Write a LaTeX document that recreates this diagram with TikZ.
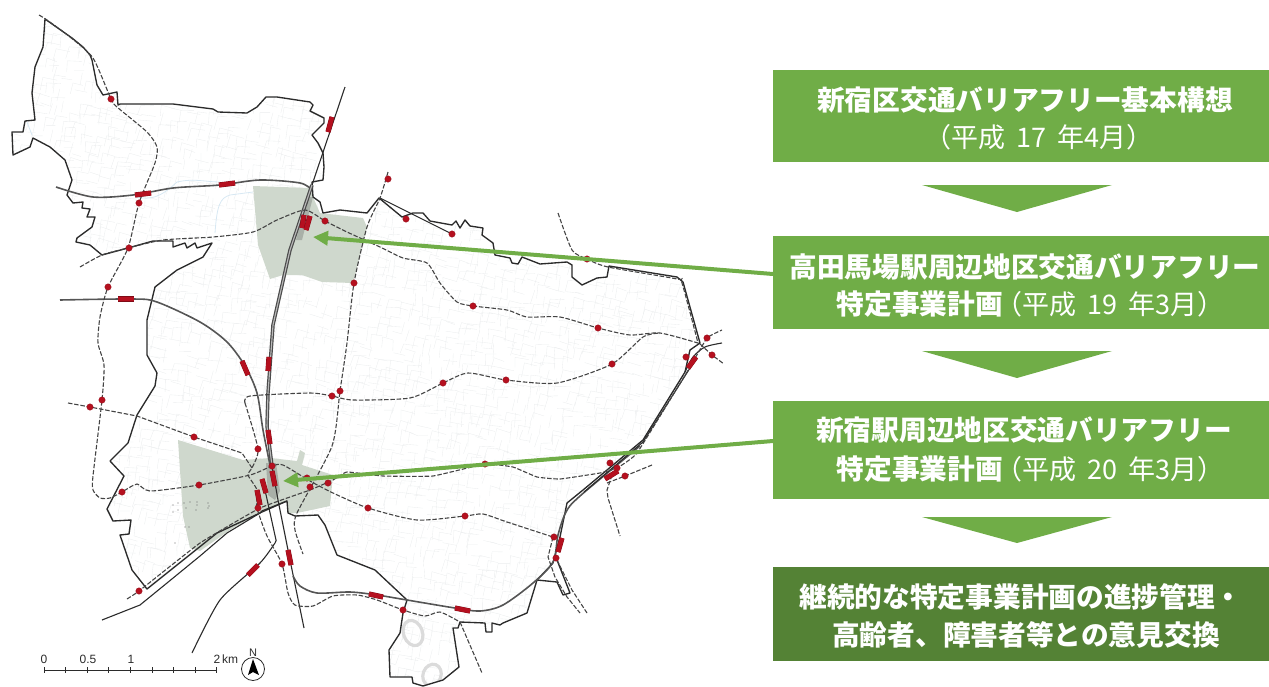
\documentclass[tikz,border=0pt]{standalone}
\usepackage{fontspec}
\usetikzlibrary{arrows.meta}
\newfontfamily\cjk{Noto Sans CJK JP}
\setsansfont{Liberation Sans}
\definecolor{gmid}{HTML}{70AD47}
\definecolor{gdark}{HTML}{548235}
\definecolor{zone}{HTML}{CFD8CD}
\definecolor{zonedk}{HTML}{A9B0A8}
\definecolor{stn}{HTML}{B5101F}
\definecolor{ink}{HTML}{2B2B2B}
\definecolor{dashc}{HTML}{444444}
\definecolor{street}{HTML}{EBEDEE}
\definecolor{river}{HTML}{D7E8F3}
\def\bdry{(45,19)--(72,38)--(83,47)--(90,55)--(92,60)--(97,85)--(103,95)--(117,92)--(118,105)--(120,104)--(173,104)--(213,109)--(218,112)--(247,113)--(257,107)--(266,97)--(277,97)--(310,102)--(313,105)--(310,111)--(324,118)--(324,123)--(312,135)--(318,143)--(323,153)--(324,167)--(323,180)--(312,182)--(313,197)--(320,202)--(323,213)--(340,210)--(367,213)--(379,198)--(402,217)--(413,213)--(423,213)--(430,221)--(452,225)--(456,221)--(460,228)--(465,220)--(470,226)--(483,228)--(482,235)--(493,243)--(495,255)--(510,258)--(512,263)--(518,264)--(522,257)--(540,264)--(567,262)--(572,265)--(572,277)--(582,285)--(597,278)--(607,277)--(609,266)--(677,277)--(683,282)--(700,343)--(690,350)--(685,372)--(643,440)--(583,490)--(567,503)--(560,537)--(553,563)--(537,580)--(527,613)--(503,623)--(500,625)--(492,623)--(492,632)--(486,632)--(485,623)--(460,622)--(458,628)--(453,628)--(459,667)--(443,680)--(423,686)--(413,683)--(412,677)--(390,677)--(389,650)--(400,633)--(403,613)--(407,600)--(375,570)--(337,555)--(325,525)--(318,515)--(295,516)--(288,513)--(287,501)--(262,511)--(260,513)--(217,533)--(147,589)--(132,570)--(120,535)--(129,534)--(131,520)--(113,521)--(107,509)--(124,476)--(110,461)--(128,443)--(137,415)--(155,386)--(157,373)--(147,355)--(147,320)--(155,287)--(177,270)--(203,257)--(212,243)--(197,248)--(195,243)--(187,248)--(185,243)--(173,247)--(173,241)--(153,241)--(128,248)--(102,255)--(90,245)--(76,242)--(77,238)--(92,227)--(95,217)--(87,217)--(90,209)--(82,208)--(83,202)--(73,203)--(67,195)--(72,180)--(65,160)--(50,147)--(33,138)--(30,147)--(13,155)--(12,132)--(23,132)--(25,121)--(35,120)--(32,93)--(35,67)--(43,47)--cycle}
\tikzset{
  x=1pt,y=-1pt,
  border/.style={draw=ink,line width=1.35pt,line join=round},
  railthin/.style={draw=ink,line width=1.1pt},
  railmain/.style={draw=ink!85,line width=1.2pt,double=gray!55,double distance=1.1pt},
  railmid/.style={draw=ink!80,line width=1.6pt},
  metro/.style={draw=dashc,line width=1.1pt,dash pattern=on 4.5pt off 1.8pt},
  stopdot/.style={circle,fill=stn,draw=stn!80!black,line width=.3pt,inner sep=0pt,minimum size=6.5pt},
  barout/.style={draw=stn!70!black,line width=5.2pt},
  barin/.style={draw=stn,line width=4.4pt},
  stepbox/.style={fill=gmid,draw=none},
  downtri/.style={fill=gmid,draw=none},
  leadline/.style={draw=gmid,line width=4pt,-{Triangle[length=15pt,width=14pt]}},
  headtxt/.style={text=white,font=\cjk\bfseries\fontsize{27.7}{30}\selectfont,inner sep=0pt},
  subtxt/.style={text=white,font=\cjk\fontsize{27}{30}\selectfont,inner sep=0pt},
  scalelbl/.style={font=\sffamily\fontsize{12}{13}\selectfont,text=ink,inner sep=0pt},
}
\newcommand{\stationbar}[2]{\draw[barout] #1 -- #2;\draw[barin] #1 -- #2;}
\newcommand{\wgap}{\hspace{.42em}}
\begin{document}
\begin{tikzpicture}
\useasboundingbox (0,0) rectangle (1269,686);
% street texture
\pgfmathsetseed{11}
\begin{scope}
\clip \bdry;
\begin{scope}[rotate around={-10:(360,340)}]
\foreach \i in {-5,...,74}{\foreach \j in {-7,...,74}{
  \pgfmathsetmacro\px{\i*10+rnd*7}
  \pgfmathsetmacro\py{\j*10+rnd*7}
  \pgfmathsetmacro\qx{\px+9+rnd*6}
  \pgfmathsetmacro\qy{\py+9+rnd*6}
  \pgfmathsetmacro\ra{rnd}
  \ifdim\ra pt<0.7pt \draw[street,line width=.35pt] (\px,\py)--(\qx,\py+rnd*4-2); \fi
  \pgfmathsetmacro\rb{rnd}
  \ifdim\rb pt<0.7pt \draw[street,line width=.35pt] (\px,\py)--(\px+rnd*4-2,\qy); \fi
}}
\end{scope}
% stadiums
\draw[gray!28,line width=3.2pt,rotate around={20:(413,633)}] (413,633) ellipse [x radius=9.5,y radius=13];
\draw[gray!28,line width=3.2pt,rotate around={-20:(432,675)}] (432,675) ellipse [x radius=9,y radius=11];
\end{scope}
% rivers
\draw[river,line width=.8pt] (137,197) .. controls (150,200) and (160,198) .. (177,182) .. controls (195,178) and (205,182) .. (220,182);
\draw[river,line width=.8pt] (253,192)--(230,195) .. controls (220,198) and (217,205) .. (215,233);
\draw[river,line width=.8pt] (27,122)--(32,135);
% zones
\fill[zone] (253,186)--(310,188)--(313,197)--(320,213)--(363,218)--(367,227)--(353,283)--(322,282)--(302,275)--(283,275)--(270,279)--(258,245)--cycle;
\fill[zone] (178,440)--(243,460)--(270,458)--(297,461)--(300,450)--(305,453)--(302,465)--(333,475)--(330,506)--(297,513)--(288,513)--(287,501)--(262,511)--(230,530)--(200,551)--(190,548)--(183,516)--cycle;
\fill[zonedk] (266,463)--(276,463)--(280,491)--(275,500)--(268,495)--cycle;
\fill[zonedk] (313,197)--(302,240)--(296,240)--(308,197)--cycle;
\foreach \a/\b in {173/505,178/503,184/503,190/502,197/502,208/503,173/512,178/510,186/508,196/510,209/506,185/527,189/527,175/543,197/505,208/508}{\fill[gray!80!black] (\a,\b) circle (.6pt);}
% boundary
\draw[border] \bdry;
\draw[border] (537,580)--(557,582)--(563,595)--(570,593)--(557,560);
% rails
\draw[railmid] plot[smooth,tension=.5] coordinates {(60,300)(133,299)(157,302)(200,322)(227,342)(245,366)(257,393)(263,430)(270,465)};
\draw[railmid] plot[smooth,tension=.5] coordinates {(56,187)(93,197)(133,195)(173,188)(220,185)(260,180)(300,183)(312,190)};
\draw[railthin] (345,87)--(312,185);
\draw[railmain] (312,185)--(290,250)--(273,325)--(268,393)--(267,426)--(272,466);
\draw[railthin] (272,466)--(278,500)--(290,560)--(304,628);
\draw[railthin] (265,490)--(276,540);
\draw[railthin] plot[smooth,tension=.4] coordinates {(276,540)(275,543)(260,563)(220,600)(192,653)};
\draw[railthin] (102,620)--(140,605)--(167,583)--(200,556)--(227,533)--(260,513)--(287,501);
\draw[railmid] plot[smooth,tension=.5] coordinates {(293,576)(300,586)(317,593)(350,592)(377,595)(407,600)(455,608)(480,611)(503,605)(533,583)(553,562)(558,535)(566,512)(580,496)(640,446)};
\draw[railthin] (584,492)--(643,442)--(690,368);
\draw[railthin] plot[smooth,tension=.5] coordinates {(685,372)(693,357)(705,347)(722,343)};
\draw[railthin] (380,198)--(452,234);
% dashed lines
\draw[metro] plot[smooth,tension=.4] coordinates {(39,15)(47,20)(70,37)(93,58)(111,99)(117,107)(147,132)(157,147)(155,163)(139,203)(128,248)(108,287)(100,317)(98,343)(104,365)(102,400)(93,476)(93,490)(100,498)(110,498)(122,492)(137,484)(150,491)(199,485)(250,475)(272,466)(283,465)(310,481)(333,493)(368,508)(417,520)(465,516)(483,514)(507,522)(553,537)};
\draw[metro] plot[smooth,tension=.4] coordinates {(80,267)(102,255)(128,248)(163,240)(213,237)(253,232)(277,220)(305,210)(325,221)(347,232)(380,247)(403,258)(427,263)(440,283)(457,302)(473,306)(507,310)(527,317)(560,317)(598,328)(630,335)(660,333)(698,343)};
\draw[metro] plot[smooth,tension=.4] coordinates {(245,403)(250,396)(310,393)(332,396)(353,400)(410,398)(443,383)(468,373)(506,380)(557,383)(612,364)(643,337)(660,333)};
\draw[metro] plot[smooth,tension=.4] coordinates {(245,403)(258,449)(252,468)(248,475)(257,490)(257,508)(267,536)(282,564)(288,593)(295,605)(313,606)(333,596)(357,595)(377,600)(403,610)(425,616)(440,612)(460,622)};
\draw[metro] (460,622)--(482,673);
\draw[metro] plot[smooth,tension=.4] coordinates {(388,172)(380,198)(367,227)(354,283)(347,343)(340,391)(332,446)(297,513)(295,530)(303,554)};
\draw[metro] (68,403)--(90,407)--(137,416)--(194,437)--(242,453)--(252,468);
\draw[metro] plot[smooth,tension=.4] coordinates {(558,213)(572,250)(587,259)(608,267)(677,279)(682,283)(698,343)};
\draw[metro] plot[smooth,tension=.2] coordinates {(127,599)(139,591)(200,543)(260,508)(310,490)(333,480)(347,472)(383,476)(433,476)(485,464)(513,467)(537,477)(560,479)(600,473)(617,468)(637,453)(687,372)(707,338)(722,330)};
\draw[metro] (607,483)--(625,476)--(652,465);
\draw[metro] (612,475)--(607,490)--(608,498)--(620,536);
\draw[metro] (700,344)--(712,355)--(724,364);
\draw[metro] (553,537)--(548,557)--(555,577)--(567,597)--(580,613);
\draw[metro] (557,560)--(572,590)--(587,613);
% stations
\stationbar{(328,132)}{(332,117)}
\stationbar{(135,195)}{(151,193)}
\stationbar{(219,185)}{(235,183)}
\stationbar{(302,228)}{(304,215)}
\stationbar{(306,230)}{(310,216)}
\stationbar{(118,299)}{(134,299)}
\stationbar{(242,361)}{(248,375)}
\stationbar{(268,371)}{(269,357)}
\stationbar{(268,430)}{(270,444)}
\stationbar{(272,471)}{(275,486)}
\stationbar{(262,479)}{(266,493)}
\stationbar{(257,490)}{(260,505)}
\stationbar{(288,550)}{(291,565)}
\stationbar{(248,575)}{(258,565)}
\stationbar{(369,594)}{(383,597)}
\stationbar{(455,608)}{(470,611)}
\stationbar{(558,552)}{(562,538)}
\stationbar{(688,368)}{(696,357)}
\stationbar{(605,479)}{(618,471)}
\foreach \p [count=\n] in {{111,99},{139,203},{129,248},{108,287},{388,179},{325,221},{354,283},{102,400},{90,407},{194,437},{258,449},{272,466},{332,396},{340,391},{122,492},{199,485},{258,508},{310,487},{328,483},{368,508},{282,564},{139,591},{307,478},{406,219},{452,234},{587,259},{473,306},{598,328},{506,380},{443,383},{612,364},{707,338},{686,357},{712,355},{485,464},{610,463},{625,476},{617,468},{465,516},{554,537},{556,558},{403,610}}{\node[stopdot] (s\n) at (\p) {};}
% steps
\fill[stepbox] (773,69.5) rectangle (1269,162);
\fill[stepbox] (773,236) rectangle (1269,329);
\fill[stepbox] (773,401) rectangle (1269,499);
\fill[fill=gdark] (773,567) rectangle (1269,661);
\coordinate (bt) at (773,274);
\coordinate (bs) at (773,441);
\coordinate (tt) at (313,237);
\coordinate (ts) at (283,481);
\draw[leadline] (bt) -- (tt);
\draw[leadline] (bs) -- (ts);
\fill[downtri] (922,185)--(1112,185)--(1017,212)--cycle;
\fill[downtri] (922,351)--(1112,351)--(1017,378)--cycle;
\fill[downtri] (922,517)--(1112,517)--(1017,543)--cycle;
\node[headtxt] (a1) at (1025,100) {新宿区交通バリアフリー基本構想};
\node[subtxt] (a2) at (1039,137) {（平成\wgap 17\wgap 年4月）};
\node[headtxt] (b1) at (1025,267) {高田馬場駅周辺地区交通バリアフリー};
\node[headtxt,anchor=east] (b2) at (1003,304) {特定事業計画};
\node[subtxt,anchor=west] (b3) at (995,304) {（平成\wgap 19\wgap 年3月）};
\node[headtxt] (c1) at (1024,430) {新宿駅周辺地区交通バリアフリー};
\node[headtxt,anchor=east] (c2) at (1003,469) {特定事業計画};
\node[subtxt,anchor=west] (c3) at (995,469) {（平成\wgap 20\wgap 年3月）};
\node[headtxt] (d1) at (1021,597) {継続的な特定事業計画の進捗管理・};
\node[headtxt] (d2) at (1026,635) {高齢者、障害者等との意見交換};
% scale bar
\draw[ink,line width=.8pt] (44,670)--(217,670);
\foreach \k in {0,...,8}{\draw[ink,line width=.7pt] (44+\k*21.6,667)--(44+\k*21.6,673);}
\node[scalelbl] (l0) at (44,659) {0};
\node[scalelbl] (l1) at (88,659) {0.5};
\node[scalelbl] (l2) at (131,659) {1};
\node[scalelbl] (l3) at (217,659) {2};
\node[scalelbl,anchor=west] (l4) at (222,659) {km};
\draw[ink,line width=.8pt] (253,669) circle (11.5);
\fill[black] (253,659)--(248,675)--(253,672)--(259,675)--cycle;
\node[scalelbl,font=\sffamily\fontsize{11}{12}\selectfont] (nn) at (253,653) {N};
\end{tikzpicture}
\end{document}
